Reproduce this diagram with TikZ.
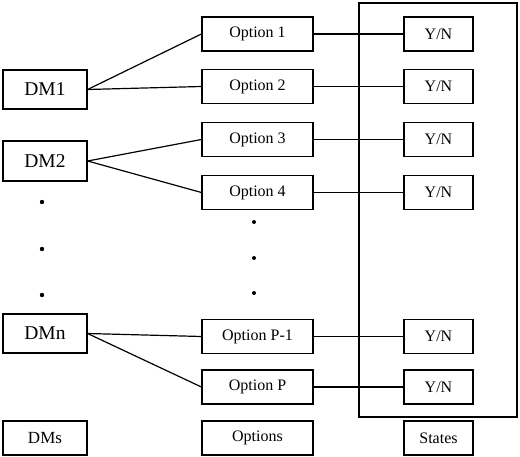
\documentclass[tikz,border=0pt]{standalone}
\usepackage{fontspec}
\setmainfont{Liberation Serif}
\begin{document}
\begin{tikzpicture}[x=1pt,y=-1pt,
  box/.style={draw,line width=1.2pt,inner sep=0pt,minimum height=34pt},
  dmbox/.style={box,minimum width=84pt,minimum height=39pt,font=\fontsize{19.5}{21}\selectfont},
  optbox/.style={box,minimum width=111pt,font=\fontsize{16}{18}\selectfont},
  ynbox/.style={box,minimum width=69pt,font=\fontsize{16}{18}\selectfont},
  conn/.style={line width=1.2pt},
  dotmark/.style={fill=black}]
\useasboundingbox (0,0) rectangle (520,457);
% frame
\draw[line width=1.2pt] (359,3) rectangle (517,417);
% DMs
\node[dmbox] (dm1) at (45,89.5) {DM1};
\node[dmbox,minimum height=40pt] (dm2) at (45,161) {DM2};
\node[dmbox] (dmn) at (45,333.5) {DMn};
\node[dmbox,minimum height=34pt,font=\fontsize{17}{19}\selectfont] (dms) at (45,438) {DMs};
% options
\node[optbox] (o1) at (257.5,34) {Option 1};
\node[optbox] (o2) at (257.5,86.5) {Option 2};
\node[optbox] (o3) at (257.5,139.5) {Option 3};
\node[optbox] (o4) at (257.5,192.5) {Option 4};
\node[optbox] (op1) at (257.5,336.5) {Option P-1};
\node[optbox] (op) at (257.5,387) {Option P};
\node[optbox] (opts) at (257.5,438) {Options};
% states
\node[ynbox] (y1) at (438.5,34) {Y/N};
\node[ynbox] (y2) at (438.5,86.5) {Y/N};
\node[ynbox] (y3) at (438.5,139.5) {Y/N};
\node[ynbox] (y4) at (438.5,192.5) {Y/N};
\node[ynbox] (yp1) at (438.5,336.5) {Y/N};
\node[ynbox] (yp) at (438.5,387) {Y/N};
\node[ynbox] (states) at (438.5,438) {States};
% connectors
\draw[conn] (dm1.east) -- (o1.west);
\draw[conn] (dm1.east) -- (o2.west);
\draw[conn] (dm2.east) -- (o3.west);
\draw[conn] (dm2.east) -- (o4.west);
\draw[conn] (dmn.east) -- (op1.west);
\draw[conn] (dmn.east) -- (op.west);
\draw[conn] (o1.east) -- (y1.west);
\draw[conn] (o2.east) -- (y2.west);
\draw[conn] (o3.east) -- (y3.west);
\draw[conn] (o4.east) -- (y4.west);
\draw[conn] (op1.east) -- (yp1.west);
\draw[conn] (op.east) -- (yp.west);
% dots
\foreach \yy in {202,249,295} \fill[dotmark] (42,\yy) circle (2.2pt);
\foreach \yy in {222,258,293} \fill[dotmark] (254,\yy) circle (2pt);
\end{tikzpicture}
\end{document}
